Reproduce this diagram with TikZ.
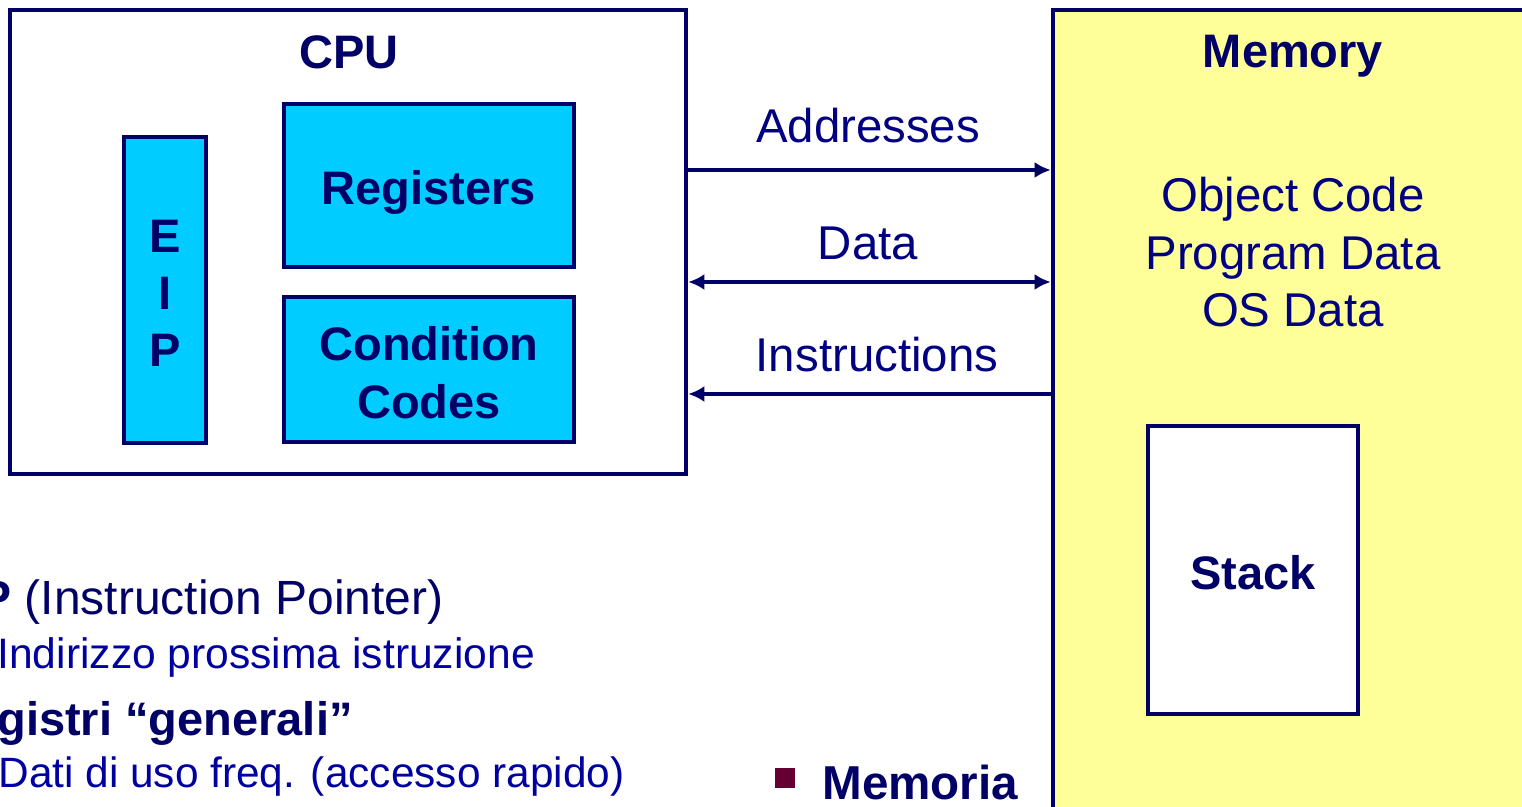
\documentclass[tikz,border=0pt]{standalone}
\usepackage{fontspec}
\setmainfont{Liberation Sans}
\usepackage{tikz}
\usetikzlibrary{arrows.meta, positioning}

\definecolor{navy}{RGB}{0,0,102}
\definecolor{busblue}{RGB}{0,0,128}
\definecolor{subblue}{RGB}{0,0,160}
\definecolor{regcyan}{RGB}{0,204,255}
\definecolor{memyellow}{RGB}{255,255,153}
\definecolor{bulletred}{RGB}{102,0,51}

\begin{document}
\begin{tikzpicture}[x=0.5pt, y=-0.5pt,
  box/.style={draw=navy, line width=2.3pt, inner sep=0pt},
  unit/.style={box, fill=regcyan},
  bus/.style={draw=navy, line width=2.2pt},
  tip/.style={},
  lbl/.style={text=busblue, inner sep=0pt, font=\fontsize{23.7}{28.75}\selectfont, align=center},
  bold/.style={text=navy, inner sep=0pt, font=\bfseries\fontsize{23.5}{29}\selectfont, align=center}]

  \useasboundingbox (0,0) rectangle (1522,807);
  \clip (0,0) rectangle (1522,807);

  % ==== Left: CPU ====

  \node[box, fill=white, minimum width=338pt, minimum height=232pt] (cpu) at (348,242) {};
  \node[bold, yshift=-1pt] (cpulbl) at (349,50) {CPU};

  \node[unit, minimum width=41pt, minimum height=153pt] (eip) at (165,290) {};
  \node[bold, font=\bfseries\fontsize{23.5}{28.5}\selectfont, yshift=-1.5pt] (eiplbl) at (eip) {E\\I\\P};

  \node[unit, minimum width=145pt, minimum height=81.5pt] (regs) at (429,185.5) {};
  \node[bold, yshift=-3.5pt] (regslbl) at (regs) {Registers};

  \node[unit, minimum width=145pt, minimum height=72.5pt] (cc) at (429,369.5) {};
  \node[bold, yshift=-1.5pt] (cclbl) at (cc) {Condition\\Codes};

  % ==== Right: Memory ====

  \node[box, fill=memyellow, minimum width=253.5pt, minimum height=415pt] (mem) at (1306.5,425) {};
  \node[bold, yshift=-2pt] (memlbl) at (1293,52) {Memory};
  \node[lbl] (memtxt) at (1293,252.5) {Object Code\\Program Data\\OS Data};

  \node[box, fill=white, minimum width=105pt, minimum height=144pt] (stack) at (1253,570) {};
  \node[bold] (stacklbl) at (1253,573) {Stack};

  % ==== Buses ====

  \draw[bus, -{Latex[length=8pt,width=8pt]}] (cpu.east |- 0,170) -- (mem.west |- 0,170);
  \node[lbl] (addr) at (868,126) {Addresses};

  \draw[bus, {Latex[length=8pt,width=8pt]}-{Latex[length=8pt,width=8pt]}] (cpu.east |- 0,282) -- (mem.west |- 0,282);
  \node[lbl] (data) at (868,243) {Data};

  \draw[bus, {Latex[length=8pt,width=8pt]}-] (cpu.east |- 0,394) -- (mem.west |- 0,394);
  \node[lbl] (instr) at (877,355) {Instructions};

  % ==== Bottom: notes ====

  \node[anchor=west, text=navy, inner sep=0pt, font=\fontsize{24}{28}\selectfont, yshift=-2pt] (eipnote) at (-21,598) {\textbf{P} (Instruction Pointer)};
  \node[anchor=west, text=subblue, inner sep=0pt, font=\fontsize{21.3}{25}\selectfont, yshift=-2pt] (eipsub) at (-3,653) {Indirizzo prossima istruzione};
  \node[anchor=west, bold, yshift=-2.5pt] (regnote) at (-3,718) {gistri “generali”};
  \node[anchor=west, text=subblue, inner sep=0pt, font=\fontsize{21.2}{25}\selectfont, yshift=-2pt] (regsub) at (-2,773) {Dati di uso freq. (accesso rapido)};

  \node[fill=bulletred, minimum size=10pt, inner sep=0pt] (bullet) at (785,778) {};
  \node[anchor=west, bold, font=\bfseries\fontsize{23.8}{29}\selectfont] (memnote) at (822,782) {Memoria};
\end{tikzpicture}
\end{document}
